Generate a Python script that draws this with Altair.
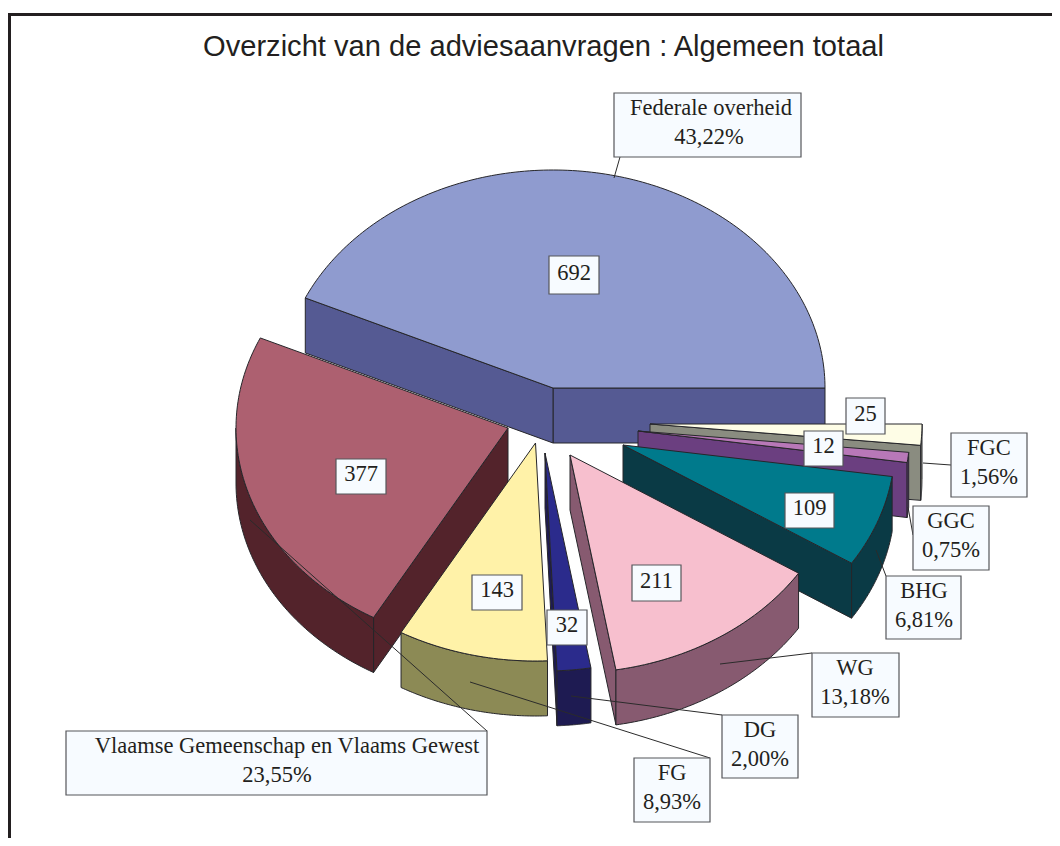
import numpy as np
import altair as alt

# ---- data
CATEGORIES = ["Federale overheid", "Vlaamse Gemeenschap en Vlaams Gewest", "FG", "DG", "WG", "BHG", "GGC", "FGC"]
VALUES = [692, 377, 143, 32, 211, 109, 12, 25]
PERCENT = ["43,22%", "23,55%", "8,93%", "2,00%", "13,18%", "6,81%", "0,75%", "1,56%"]
TITLE = "Overzicht van de adviesaanvragen : Algemeen totaal"

# ---- styling and layout (image pixels)
TOP = ["#8F9BCF", "#AD6070", "#FFF2A8", "#2B2B8C", "#F7BFCE", "#007A8C", "#B878B8", "#FEFDE6"]
WALL = ["#555A93", "#53232B", "#8C8A55", "#1E1B52", "#875A70", "#0A3A45", "#6B3F80", "#8A8C80"]
APEX = [(553, 388), (508, 428), (535.5, 443), (545, 453), (570, 455), (623, 445), (638, 431), (650, 424)]
RX, RY, DEPTH = 272, 218, 55
PAINT_ORDER = [0, 7, 6, 5, 1, 4, 2, 3]
# value box: x0, x1, y0, y1
VALUE_BOX = [(549, 599, 256, 294), (336, 386, 459, 494), (472, 522, 575, 610), (547, 587, 610, 645),
             (632, 681, 565, 601), (785, 834, 493, 528), (804, 843, 431, 466), (846, 885, 398, 434)]
NAME_BOX = [(614, 801, 93, 157), (66, 487, 731, 795), (634, 710, 758, 822), (722, 798, 715, 778),
            (812, 899, 653, 717), (886, 961, 576, 639), (913, 989, 506, 570), (951, 1027, 433, 497)]
NAME_POS = [(711, 108), (287, 746), (672, 773), (760, 730), (855, 668), (924, 591), (951, 521), (989, 448)]
PCT_POS = [(709, 137), (277, 775), (672, 802), (760, 759), (855, 697), (924, 620), (951, 550), (989, 477)]
LEADER = [(614, 178, 620, 157), (250, 520, 487, 731), (470, 682, 710, 758), (571, 696, 722, 715),
          (720, 664, 812, 653), (876, 550, 886, 576), (908, 507, 913, 535), (923, 463, 951, 465)]
FRAME = [(8, 14.5, 1052, 14.5), (9.5, 14, 9.5, 838)]

spans = np.array(VALUES) / sum(VALUES) * 2 * np.pi
ends = np.cumsum(spans)
starts = ends - spans


def rim(i, a):
    cx, cy = APEX[i]
    return [cx + RX * np.cos(a), cy - RY * np.sin(a)]


def feature(points, fill):
    ring = [[float(p[0]), float(p[1])] for p in points]
    ring.append(ring[0])
    return {"type": "Feature", "properties": {"fill": fill},
            "geometry": {"type": "Polygon", "coordinates": [ring]}}


def down(p):
    return [p[0], p[1] + DEPTH]


features = []
for i in PAINT_ORDER:
    a1, a2 = starts[i], ends[i]
    apex = list(APEX[i])
    # radial side walls, only those turned towards the viewer
    if np.cos(a1) > 0:
        p = rim(i, a1)
        features.append(feature([apex, p, down(p), down(apex)], WALL[i]))
    if np.cos(a2) < 0:
        p = rim(i, a2)
        features.append(feature([apex, p, down(p), down(apex)], WALL[i]))
    # outer wall on the near half of the rim
    lo = max(a1, np.pi)
    if a2 > lo:
        arc = [rim(i, a) for a in np.linspace(lo, a2, 60)]
        features.append(feature(arc + [down(p) for p in arc[::-1]], WALL[i]))
    # top face
    arc = [rim(i, a) for a in np.linspace(a1, a2, max(8, int(np.degrees(a2 - a1))))]
    features.append(feature([apex] + arc, TOP[i]))

W, H = 1044, 830
xs = alt.Scale(domain=[8, 8 + W], range=[0, W])
ys = alt.Scale(domain=[8 + H, 8], range=[H, 0])
X = lambda f: alt.X(f, type="quantitative", scale=xs, axis=None)
Y = lambda f: alt.Y(f, type="quantitative", scale=ys, axis=None)

pie = alt.Chart(alt.Data(values=features)).mark_geoshape(stroke="#26262a", strokeWidth=1).encode(
    fill=alt.Fill("properties.fill:N", scale=None, legend=None)
).project(type="identity", scale=1, translate=[-8, -8])

segs = [dict(x=a, y=b, x2=c, y2=d) for a, b, c, d in LEADER]
leaders = alt.Chart(alt.Data(values=segs)).mark_rule(color="#2b2b2b", strokeWidth=1).encode(
    x=X("x"), y=Y("y"), x2="x2:Q", y2="y2:Q")

frames = alt.Chart(alt.Data(values=[dict(x=a, y=b, x2=c, y2=d) for a, b, c, d in FRAME])).mark_rule(
    color="#231F20", strokeWidth=3).encode(x=X("x"), y=Y("y"), x2="x2:Q", y2="y2:Q")

boxes_data = [dict(x=a, x2=b, y=c, y2=d) for a, b, c, d in VALUE_BOX + NAME_BOX]
boxes = alt.Chart(alt.Data(values=boxes_data)).mark_rect(
    fill="#F7FBFF", stroke="#55565a", strokeWidth=1.2).encode(x=X("x"), y=Y("y"), x2="x2:Q", y2="y2:Q")

texts = []
for i in range(len(VALUES)):
    b = VALUE_BOX[i]
    texts.append(dict(x=(b[0] + b[1]) / 2, y=(b[2] + b[3]) / 2 - 2.5, t=str(VALUES[i])))
    texts.append(dict(x=NAME_POS[i][0], y=NAME_POS[i][1], t=CATEGORIES[i]))
    texts.append(dict(x=PCT_POS[i][0], y=PCT_POS[i][1], t=PERCENT[i]))
labels = alt.Chart(alt.Data(values=texts)).mark_text(
    font="Liberation Serif", fontSize=22.5, color="#231F20", baseline="middle", align="center").encode(
    x=X("x"), y=Y("y"), text="t:N")

title = alt.Chart(alt.Data(values=[dict(x=543.5, y=47, t=TITLE)])).mark_text(
    font="Liberation Sans", fontSize=29.1, color="#231F20", baseline="middle", align="center").encode(
    x=X("x"), y=Y("y"), text="t:N")

chart = alt.layer(pie, leaders, boxes, labels, title, frames).properties(
    width=W, height=H, padding=0, autosize=alt.AutoSizeParams(type="none"),
    view=alt.ViewConfig(stroke="transparent", strokeWidth=0)
).configure_view(stroke="transparent", strokeWidth=0).configure(background="white")

chart.save("out.html", embed_options={"renderer": "svg", "actions": False})
